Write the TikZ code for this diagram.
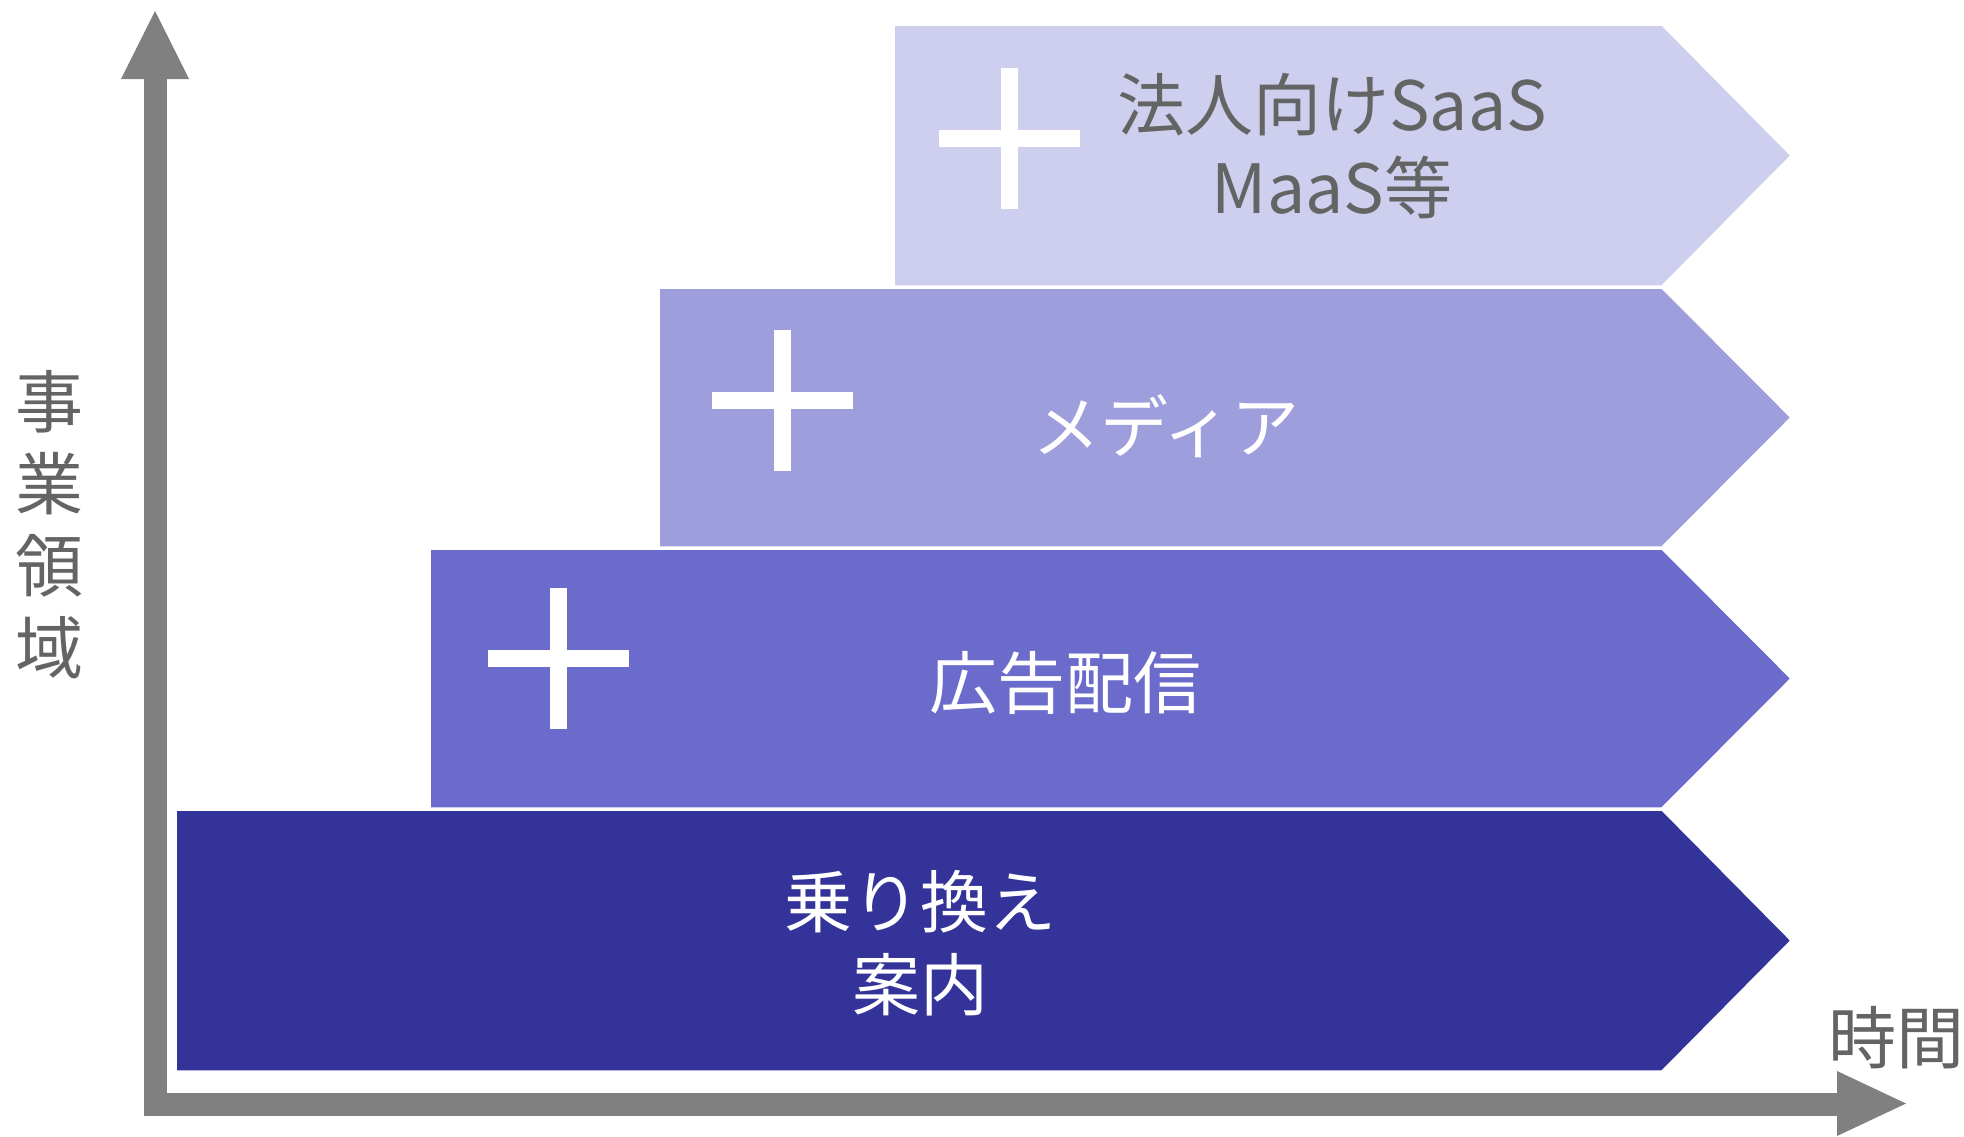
\documentclass[tikz,border=0pt]{standalone}
\usepackage{fontspec}
\newfontfamily\jpfont{Noto Sans CJK JP}
\definecolor{cA}{RGB}{51,51,153}
\definecolor{cB}{RGB}{107,107,204}
\definecolor{cC}{RGB}{159,158,221}
\definecolor{cD}{RGB}{206,207,238}
\definecolor{axisgray}{RGB}{128,128,128}
\definecolor{txtgray}{RGB}{100,100,100}
\newcommand\mychev[4]{%
  \filldraw[chev, fill=#4] (#1,#2) -- (1662,#2) -- (1791,{(#2+#3)/2}) -- (1662,#3) -- (#1,#3) -- cycle;}
\newcommand\mycross[2]{%
  \fill[white] (#1-70.5,#2-8.5) rectangle (#1+70.5,#2+8.5);
  \fill[white] (#1-8.5,#2-70.5) rectangle (#1+8.5,#2+70.5);}
\begin{document}
\begin{tikzpicture}[x=1pt,y=-1pt,
  chev/.style={draw=white,line width=1.5pt},
  lbl/.style={font=\jpfont\fontsize{68}{83}\selectfont, align=center, inner sep=0pt},
  whitelbl/.style={lbl, text=white},
  graylbl/.style={lbl, text=txtgray}]
\useasboundingbox (0,0) rectangle (1964,1136);
\fill[white] (0,0) rectangle (1964,1136);

% axes
\coordinate (ytip) at (155,11);
\coordinate (ybase) at (155,79);
\coordinate (o) at (155,1104.5);
\coordinate (xbase) at (1837,1104.5);
\coordinate (xtip) at (1906,1103.5);
\draw[axisgray, line width=23pt] (ybase) -- (o) -- (xbase);
\fill[axisgray] (ytip) -- (189,79) -- (121,79) -- cycle;
\fill[axisgray] (xtip) -- (1837,1071) -- (1837,1136) -- cycle;

% chevrons
\mychev{894}{25}{286}{cD}
\mychev{659}{288}{547}{cC}
\mychev{430}{549}{808}{cB}
\mychev{176}{810}{1071}{cA}

% crosses
\mycross{1009}{138.5}
\mycross{782.5}{400}
\mycross{558}{658}

% labels
\node[graylbl] (saas) at (1332,146) {法人向けSaaS\\MaaS等};
\node[whitelbl] (media) at (1166,426) {メディア};
\node[whitelbl] (ad) at (1065,683) {広告配信};
\node[whitelbl] (transit) at (920,943) {乗り換え\\案内};
\node[graylbl, font=\jpfont\fontsize{68}{82}\selectfont] (yl) at (49,525) {事\\業\\領\\域};
\node[graylbl] (xl) at (1896,1038) {時間};
\end{tikzpicture}
\end{document}
